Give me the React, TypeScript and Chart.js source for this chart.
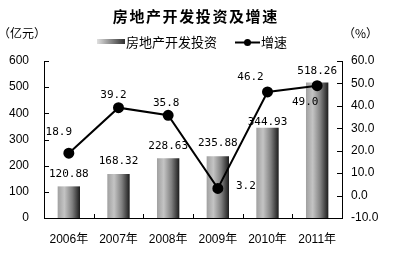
import React, { useEffect, useRef } from "react";
import { Chart, registerables } from "chart.js";

Chart.register(...registerables);

const title = "房地产开发投资及增速";
const leftUnit = "（亿元）";
const rightUnit = "（%）";
const barSeriesName = "房地产开发投资";
const lineSeriesName = "增速";

const categories = ["2006年", "2007年", "2008年", "2009年", "2010年", "2011年"];
const investment = [120.88, 168.32, 228.63, 235.88, 344.93, 518.26];
const investmentLabels = ["120.88", "168.32", "228.63", "235.88", "344.93", "518.26"];
const growth = [18.9, 39.2, 35.8, 3.2, 46.2, 49.0];
const growthLabels = ["18.9", "39.2", "35.8", "3.2", "46.2", "49.0"];

const leftMin = 0;
const leftMax = 600;
const leftStep = 100;
const rightMin = -10;
const rightMax = 60;
const rightStep = 10;

// label placement (styling, not data)
const BAR_LABEL_DY = [-12, -13, -12, -13, -6, -11];
const LINE_LABEL_OFFSET: [number, number][] = [
  [-10, -21],
  [-5, -13],
  [-2, -12],
  [28, -2],
  [-17, -15],
  [-12, 16],
];

const BAR_PCT = 0.45;
const TICK_FONT = "'Liberation Sans', 'Noto Sans CJK SC', sans-serif";
const CJK_FONT = "'Noto Sans CJK SC', sans-serif";
const LABEL_FONT = "'DejaVu Sans Mono', monospace";

function barGradient(ctx: CanvasRenderingContext2D, x0: number, x1: number) {
  const g = ctx.createLinearGradient(x0, 0, x1, 0);
  g.addColorStop(0, "#a0a0a0");
  g.addColorStop(0.3, "#c4c4c4");
  g.addColorStop(0.65, "#808080");
  g.addColorStop(1, "#1c1c1c");
  return g;
}

const decorPlugin = {
  id: "decor",
  afterDatasetsDraw(chart: any) {
    const ctx: CanvasRenderingContext2D = chart.ctx;
    const { left, right, bottom } = chart.chartArea;
    const ys = chart.scales.y;
    const ys1 = chart.scales.y1;
    ctx.save();
    // inward tick marks
    ctx.strokeStyle = "#000";
    ctx.lineWidth = 1;
    ctx.beginPath();
    ys.ticks.forEach((t: any) => {
      const py = Math.round(ys.getPixelForValue(t.value)) + 0.5;
      ctx.moveTo(left, py);
      ctx.lineTo(left + 5, py);
    });
    ys1.ticks.forEach((t: any) => {
      const py = Math.round(ys1.getPixelForValue(t.value)) + 0.5;
      ctx.moveTo(right, py);
      ctx.lineTo(right - 5, py);
    });
    const cw = (right - left) / categories.length;
    for (let i = 1; i < categories.length; i++) {
      const px = Math.round(left + cw * i) + 0.5;
      ctx.moveTo(px, bottom);
      ctx.lineTo(px, bottom - 4);
    }
    ctx.stroke();

    // data labels
    ctx.fillStyle = "#000";
    ctx.font = `11px ${LABEL_FONT}`;
    ctx.textAlign = "center";
    ctx.textBaseline = "middle";
    const barMeta = chart.getDatasetMeta(1);
    barMeta.data.forEach((el: any, i: number) => {
      ctx.fillText(investmentLabels[i], el.x, el.y + BAR_LABEL_DY[i]);
    });
    const lineMeta = chart.getDatasetMeta(0);
    lineMeta.data.forEach((el: any, i: number) => {
      const [dx, dy] = LINE_LABEL_OFFSET[i];
      ctx.fillText(growthLabels[i], el.x + dx, el.y + dy);
    });
    ctx.restore();
  },
  afterDraw(chart: any) {
    const ctx: CanvasRenderingContext2D = chart.ctx;
    ctx.save();
    ctx.fillStyle = "#000";
    // title, drawn with spacing
    ctx.font = `bold 15px ${CJK_FONT}`;
    ctx.textBaseline = "middle";
    ctx.textAlign = "left";
    const chars = Array.from(title);
    const pitch = 16.6;
    const startX = 195 - (pitch * (chars.length - 1) + 15) / 2;
    chars.forEach((ch, i) => ctx.fillText(ch, startX + i * pitch, 16));

    // units
    ctx.font = `12px ${CJK_FONT}`;
    ctx.fillText(leftUnit, -2, 33);
    ctx.fillText(rightUnit, 343, 33);

    // legend
    const g = ctx.createLinearGradient(97, 0, 125, 0);
    g.addColorStop(0, "#e0e0e0");
    g.addColorStop(1, "#303030");
    ctx.fillStyle = g;
    ctx.fillRect(97, 39, 28, 5);
    ctx.fillStyle = "#000";
    ctx.font = `13px ${CJK_FONT}`;
    ctx.fillText(barSeriesName, 126, 42.5);
    ctx.strokeStyle = "#000";
    ctx.lineWidth = 2;
    ctx.beginPath();
    ctx.moveTo(235, 42.5);
    ctx.lineTo(260, 42.5);
    ctx.stroke();
    ctx.beginPath();
    ctx.arc(247.5, 42.5, 3.5, 0, Math.PI * 2);
    ctx.fill();
    ctx.fillText(lineSeriesName, 261, 42.5);
    ctx.restore();
  },
};

export default function App() {
  const ref = useRef<HTMLCanvasElement | null>(null);
  useEffect(() => {
    if (!ref.current) return;
    const chart = new Chart(ref.current, {
      type: "bar",
      data: {
        labels: categories,
        datasets: [
          {
            type: "line",
            label: lineSeriesName,
            data: growth,
            yAxisID: "y1",
            borderColor: "#000",
            backgroundColor: "#000",
            borderWidth: 2,
            pointRadius: 4.5,
            pointBackgroundColor: "#000",
            pointBorderColor: "#000",
            tension: 0,
            order: 0,
          } as any,
          {
            type: "bar",
            label: barSeriesName,
            data: investment,
            yAxisID: "y",
            categoryPercentage: 1,
            barPercentage: BAR_PCT,
            borderWidth: 0,
            order: 1,
            backgroundColor: (c: any) => {
              const ch = c.chart;
              const xs = ch.scales?.x;
              if (!xs || c.dataIndex === undefined) return "#999";
              const cx = xs.getPixelForValue(c.dataIndex);
              const w = (xs.width / categories.length) * BAR_PCT;
              if (!isFinite(cx) || !isFinite(w) || w <= 0) return "#999";
              return barGradient(ch.ctx, cx - w / 2, cx + w / 2);
            },
          } as any,
        ],
      },
      options: {
        animation: false,
        responsive: false,
        maintainAspectRatio: false,
        events: [],
        layout: { padding: { top: 61, left: 0, right: 0, bottom: 0 } },
        plugins: {
          legend: { display: false },
          tooltip: { enabled: false },
          title: { display: false },
        },
        scales: {
          x: {
            offset: true,
            grid: { display: false },
            border: { display: true, color: "#000", width: 1 },
            ticks: {
              color: "#000",
              font: { family: TICK_FONT, size: 12 },
              padding: 6,
              maxRotation: 0,
            },
            afterFit: (s: any) => {
              s.height = 47;
            },
          },
          y: {
            position: "left",
            min: leftMin,
            max: leftMax,
            grid: { display: false, drawTicks: false },
            border: { display: true, color: "#000", width: 1 },
            ticks: {
              stepSize: leftStep,
              color: "#000",
              padding: 15,
              font: { family: TICK_FONT, size: 12 },
              callback: (v: any) => String(v),
            },
            afterFit: (s: any) => {
              s.width = 44;
            },
          },
          y1: {
            position: "right",
            min: rightMin,
            max: rightMax,
            grid: { display: false, drawTicks: false },
            border: { display: true, color: "#000", width: 1 },
            ticks: {
              stepSize: rightStep,
              color: "#000",
              padding: 9,
              font: { family: TICK_FONT, size: 12 },
              callback: (v: any) => Number(v).toFixed(1),
            },
            afterFit: (s: any) => {
              s.width = 63;
            },
          },
        },
      },
      plugins: [decorPlugin],
    });
    return () => chart.destroy();
  }, []);
  return (
    <div style={{ position: "absolute", left: 0, top: 0, width: 405, height: 265, background: "#fff" }}>
      <canvas ref={ref} width={405} height={265} style={{ display: "block" }} />
    </div>
  );
}
